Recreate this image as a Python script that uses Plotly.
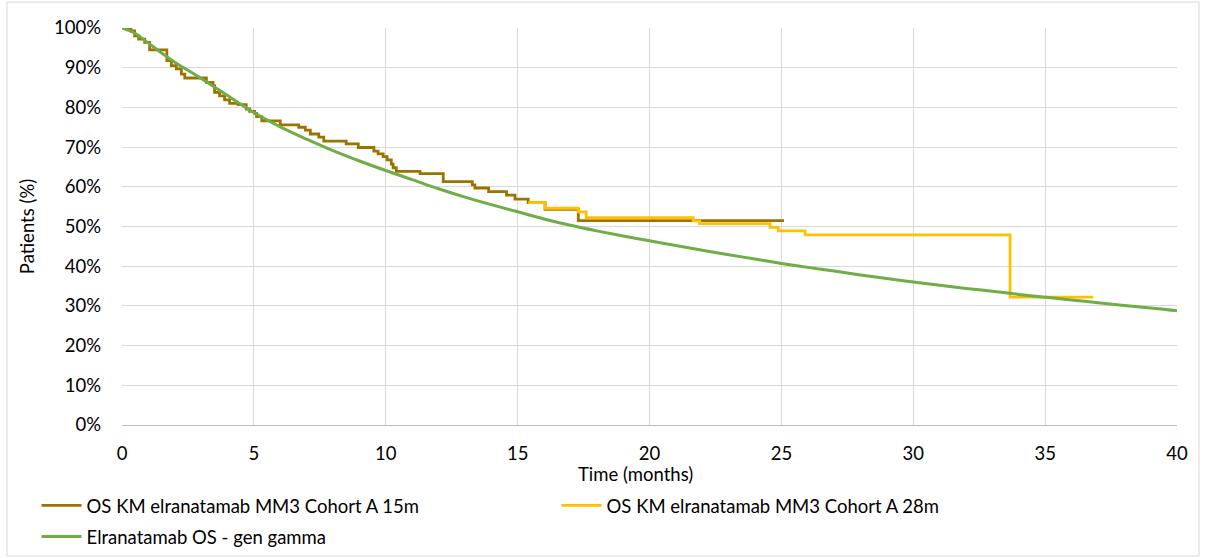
import plotly.graph_objects as go

# KM 15m data cut (step function, value holds until next time)
km15_t = [0, 0.34, 0.48, 0.63, 0.86, 1.05, 1.7, 1.87, 2.06, 2.25, 2.38, 3.2, 3.45, 3.51, 3.7, 3.89,
          4.08, 4.4, 4.71, 4.84, 5.03, 5.1, 5.3, 6.0, 6.7, 6.95, 7.14, 7.46, 7.65, 8.5, 8.96, 9.55,
          9.71, 9.9, 10.05, 10.21, 10.28, 10.4, 11.3, 12.18, 13.28, 13.38, 13.9, 14.58, 14.9, 15.4,
          16.04, 17.3, 25.1]
km15_s = [100, 99.3, 98.0, 97.2, 96.4, 94.5, 91.8, 90.5, 89.7, 88.4, 87.4, 86.3, 85.5, 83.8, 82.9, 81.9,
          81.0, 80.7, 79.6, 79.0, 78.5, 77.7, 76.6, 75.6, 75.0, 74.3, 73.3, 72.5, 71.5, 70.8, 69.9, 69.0,
          68.3, 67.6, 66.8, 65.7, 64.8, 63.9, 63.3, 61.3, 60.5, 59.7, 58.8, 57.9, 56.9, 56.0,
          54.3, 51.5, 51.5]

# KM 28m data cut (shown where it differs)
km28_t = [15.4, 16.04, 17.3, 17.6, 21.66, 21.9, 24.57, 24.88, 25.9, 33.67, 36.83]
km28_s = [56.0, 54.6, 53.7, 52.2, 51.4, 50.7, 49.8, 48.9, 47.9, 32.2, 32.2]

# Generalised gamma fitted curve
gg_t = [0, 0.5, 1, 1.5, 2, 3, 4, 5, 6, 7, 8, 9, 10, 11, 12, 13, 14, 15, 16, 17, 18, 19, 20,
        21, 22, 23, 24, 25, 26, 27, 28, 29, 30, 31, 32, 33, 34, 35, 36, 37, 38, 39, 40]
gg_s = [100, 98.6, 96.2, 93.7, 91.4, 87.3, 83.0, 78.7, 75.1, 72.0, 69.1, 66.5, 64.1, 61.8, 59.5,
        57.4, 55.5, 53.7, 51.9, 50.3, 48.9, 47.6, 46.4, 45.2, 44.0, 42.9, 41.8, 40.7, 39.7, 38.8,
        37.8, 36.9, 36.0, 35.2, 34.4, 33.7, 32.9, 32.2, 31.5, 30.8, 30.1, 29.5, 28.8]

x_ticks = [0, 5, 10, 15, 20, 25, 30, 35, 40]
y_ticks = [0, 10, 20, 30, 40, 50, 60, 70, 80, 90, 100]

FONT = "Lato"
FS = 18.5

fig = go.Figure()
fig.add_trace(go.Scatter(x=km15_t, y=km15_s, mode="lines", line_shape="hv",
                         line=dict(color="#9C7300", width=2.8),
                         name="OS KM elranatamab MM3 Cohort A 15m", legend="legend"))
fig.add_trace(go.Scatter(x=km28_t, y=km28_s, mode="lines", line_shape="hv",
                         line=dict(color="#FFC000", width=2.8),
                         name="OS KM elranatamab MM3 Cohort A 28m", legend="legend"))
fig.add_trace(go.Scatter(x=gg_t, y=gg_s, mode="lines", line_shape="spline",
                         line=dict(color="#70AD47", width=3),
                         name="Elranatamab OS - gen gamma", legend="legend2"))

leg_common = dict(orientation="h", xanchor="left", yanchor="top",
                  font=dict(family=FONT, size=FS, color="#000000"),
                  itemwidth=40, bgcolor="rgba(0,0,0,0)")
fig.update_layout(
    width=1205, height=558,
    margin=dict(l=122, r=28, t=28, b=133, autoexpand=False),
    paper_bgcolor="white", plot_bgcolor="white",
    font=dict(family=FONT, size=FS, color="#000000"),
    showlegend=True,
    legend=dict(x=-0.081, y=-0.156, entrywidth=465, entrywidthmode="pixels", **leg_common),
    legend2=dict(x=-0.081, y=-0.234, **leg_common),
)
fig.update_xaxes(range=[0, 40], tickvals=x_ticks, ticktext=[str(v) for v in x_ticks],
                 showgrid=True, gridcolor="#D9D9D9", gridwidth=1.3,
                 showline=True, linecolor="#BFBFBF", linewidth=1.3, zeroline=False,
                 ticks="", ticklabelstandoff=12)
fig.update_yaxes(range=[0, 100], tickvals=y_ticks, ticktext=[f"{v}%" for v in y_ticks],
                 showgrid=True, gridcolor="#D9D9D9", gridwidth=1.3,
                 showline=False, zeroline=False, ticks="", ticklabelstandoff=20,
                 title=dict(text="Patients (%)", standoff=14, font=dict(family=FONT, size=FS)))

fig.add_annotation(text="Time (months)", xref="paper", yref="paper",
                   x=(635 - 122) / 1055, y=(425 - 474) / 397, xanchor="center", yanchor="middle",
                   showarrow=False, font=dict(family=FONT, size=FS, color="#000000"))

fig.add_shape(type="rect", xref="paper", yref="paper",
              x0=(7 - 122) / 1055, x1=(1199 - 122) / 1055,
              y0=(425 - 556) / 397, y1=(425 - 2) / 397,
              line=dict(color="#D9D9D9", width=1), fillcolor="rgba(0,0,0,0)", layer="below")

fig.write_html("out.html")
